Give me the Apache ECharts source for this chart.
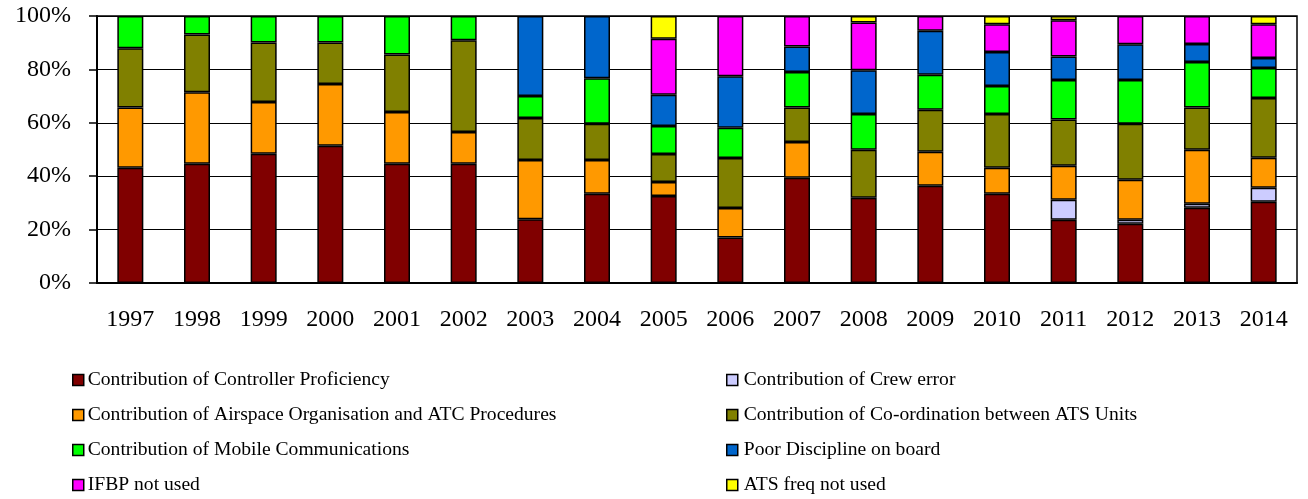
<!DOCTYPE html>
<html>
<head>
<meta charset="utf-8">
<script src="https://cdn.jsdelivr.net/npm/echarts@6/dist/echarts.min.js"></script>
<style>
  html, body { margin: 0; padding: 0; background: #fff; }
  #chart { width: 1308px; height: 499px; }
</style>
</head>
<body>
<div id="chart"></div>
<script>
var years = ['1997','1998','1999','2000','2001','2002','2003','2004','2005','2006','2007','2008','2009','2010','2011','2012','2013','2014'];
var yTicks = ['0%','20%','40%','60%','80%','100%'];

// percentages per year, bottom to top of each stack
var controller = [43.2, 44.7, 48.4, 51.4, 44.7, 44.7, 23.9, 33.4, 32.6, 17.0, 39.4, 31.9, 36.4, 33.4, 23.7, 22.2, 28.2, 30.4];
var crew       = [0, 0, 0, 0, 0, 0, 0, 0, 0, 0, 0, 0, 0, 0, 7.5, 1.5, 1.5, 5.3];
var airspace   = [22.5, 26.7, 19.4, 23.1, 19.3, 11.9, 22.2, 12.7, 5.2, 11.1, 13.4, 0, 12.8, 9.8, 12.7, 15.0, 20.2, 11.2];
var coord      = [22.2, 21.7, 22.3, 15.6, 21.6, 34.3, 15.7, 13.5, 10.5, 18.7, 12.9, 18.0, 15.7, 20.1, 17.3, 20.9, 15.8, 22.4];
var mobile     = [12.1, 6.9, 9.9, 9.9, 14.4, 9.1, 8.2, 17.1, 10.5, 11.3, 13.3, 13.4, 13.1, 10.5, 14.8, 16.4, 17.1, 11.2];
var discipline = [0, 0, 0, 0, 0, 0, 30.0, 23.3, 11.7, 19.3, 9.6, 16.4, 16.5, 12.7, 8.8, 13.4, 6.7, 3.8];
var ifbp       = [0, 0, 0, 0, 0, 0, 0, 0, 21.0, 22.6, 11.4, 17.9, 5.5, 10.4, 13.6, 10.6, 10.5, 12.6];
var atsFreq    = [0, 0, 0, 0, 0, 0, 0, 0, 8.5, 0, 0, 2.4, 0, 3.1, 1.6, 0, 0, 3.1];

var names = [
  'Contribution of Controller Proficiency',
  'Contribution of Crew error',
  'Contribution of Airspace Organisation and ATC Procedures',
  'Contribution of Co-ordination between ATS Units',
  'Contribution of Mobile Communications',
  'Poor Discipline on board',
  'IFBP not used',
  'ATS freq not used'
];
var colors = ['#800000', '#ccccff', '#ff9900', '#808000', '#00ff00', '#0066cc', '#ff00ff', '#ffff00'];
var allData = [controller, crew, airspace, coord, mobile, discipline, ifbp, atsFreq];

var font = 'Liberation Serif, Times New Roman, serif';

var series = [];
for (var i = 0; i < names.length; i++) {
  series.push({
    name: names[i],
    type: 'bar',
    stack: 'total',
    barWidth: '39%',
    itemStyle: { color: colors[i], borderColor: '#000', borderWidth: 1.5 },
    data: allData[i].map(function (v) { return v === 0 ? '-' : v; })
  });
}

function makeLegend(left, textPad, items) {
  return {
    orient: 'vertical',
    left: left,
    top: 370,
    height: 129,
    padding: 0,
    itemWidth: 11,
    itemHeight: 11,
    itemGap: 15,
    icon: 'rect',
    itemStyle: { borderColor: '#000', borderWidth: 1.5 },
    textStyle: { fontFamily: font, fontSize: 19.6, color: '#000', padding: [0, 0, 0, textPad], lineHeight: 20 },
    data: items
  };
}

var myChart = echarts.init(document.getElementById('chart'));
var option = {
  animation: false,
  color: colors,
  legend: [
    makeLegend(72, -1, [names[0], names[2], names[4], names[6]]),
    makeLegend(726, 1, [names[1], names[3], names[5], names[7]])
  ],
  grid: {
    left: 97,
    right: 11,
    top: 16,
    bottom: 216,
    show: true,
    borderColor: '#000',
    borderWidth: 1.5
  },
  xAxis: {
    type: 'category',
    data: years,
    axisLine: { lineStyle: { color: '#000', width: 2 } },
    axisTick: { length: 6, lineStyle: { color: '#000', width: 2 } },
    axisLabel: { color: '#000', fontFamily: font, fontSize: 24, margin: 25 }
  },
  yAxis: {
    type: 'value',
    min: 0,
    max: 100,
    interval: 20,
    axisLine: { show: true, lineStyle: { color: '#000', width: 2 } },
    axisTick: { show: true, length: 8, lineStyle: { color: '#000', width: 1.5 } },
    splitLine: { lineStyle: { color: '#000', width: 1.2 } },
    axisLabel: {
      color: '#000', fontFamily: font, fontSize: 24, margin: 26,
      formatter: function (v) { return yTicks[v / 20]; }
    }
  },
  series: series
};
myChart.setOption(option);
</script>
</body>
</html>
